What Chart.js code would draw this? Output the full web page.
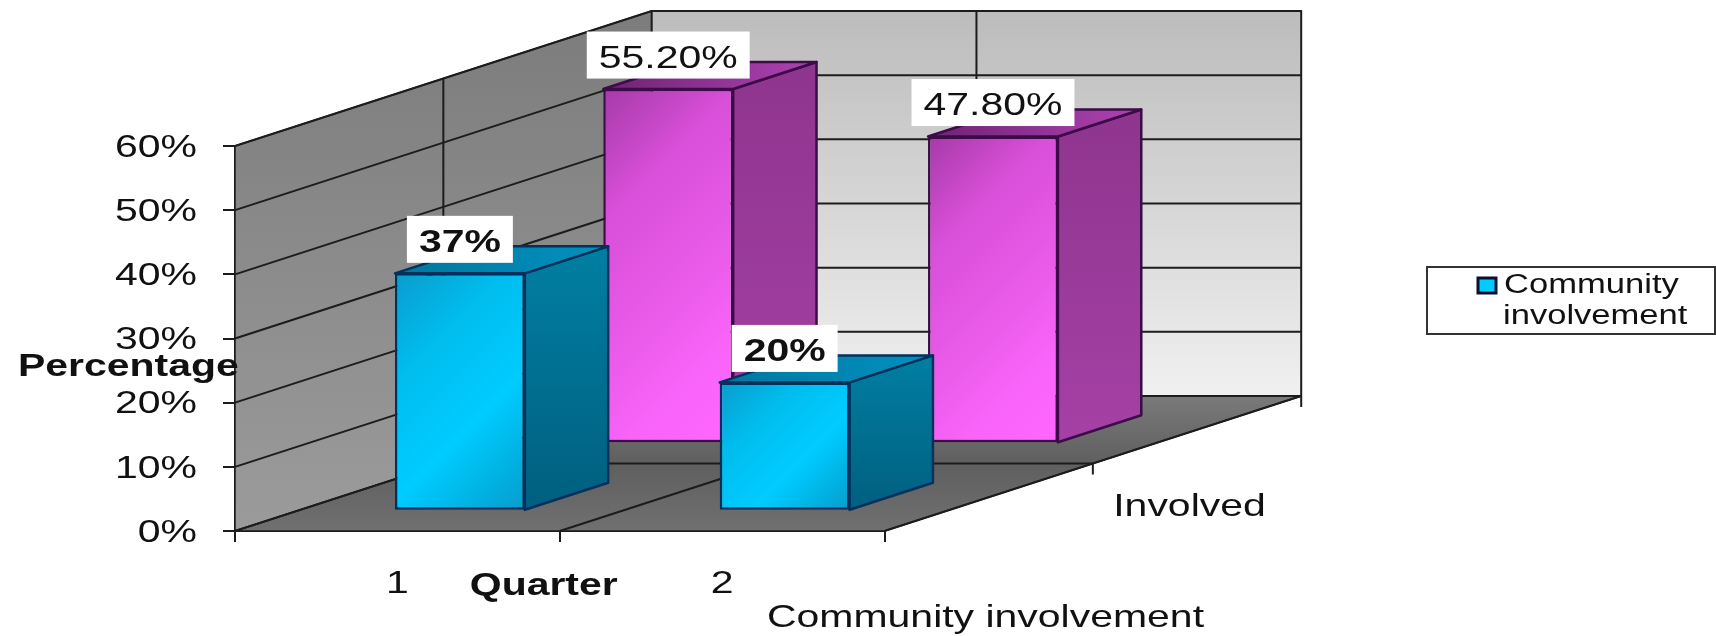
<!DOCTYPE html>
<html>
<head>
<meta charset="utf-8">
<style>
html,body{margin:0;padding:0;background:#fff;overflow:hidden}
canvas{display:block;filter:blur(.5px)}
</style>
<script src="https://cdn.jsdelivr.net/npm/chart.js@4"></script>
</head>
<body>
<canvas id="c" width="1716" height="636" style="width:1716px;height:636px"></canvas>
<script>
const quarters = ['1', '2'];
const seriesNames = ['Community involvement', 'Involved'];
const communityValues = [37, 20];
const involvedValues = [55.2, 47.8];
const communityLabels = ['37%', '20%'];
const involvedLabels = ['55.20%', '47.80%'];
const legendLines = ['Community', 'involvement'];
const yAxisTitle = 'Percentage';
const xAxisTitle = 'Quarter';
const depthTitle = 'Community involvement';
const depthLabel = 'Involved';

const STRETCH = 1.28, FONT = '"Liberation Sans", Arial, sans-serif', SIZE = 32;
const DX = 416.7, DY = 135;                 // projected depth of the 3D box
const ROW_DEPTH = [0.15, 0.65], BAR_DEPTH = 0.2;
const INK = '#1c1c1c';

const skins = [
  {stops: [[0,'#0a9ccd'],[0.3,'#00bdee'],[0.62,'#00ccff'],[0.85,'#00b0e0'],[1,'#0a9ccc']],
   side: ['#007fa2','#005f80'], top: ['#00779e','#0091c0'], line: '#04305c', flat: '#00ccff'},
  {stops: [[0,'#a53aa8'],[0.27,'#d84fd8'],[0.55,'#e85ae8'],[0.8,'#fa64fa'],[1,'#ff66ff']],
   side: ['#8e358e','#a640a6'], top: ['#6d2472','#b042b4'], line: '#3c0b48', flat: '#f25ff2'}
];

function frontFill(ctx){
  const skin = skins[ctx.datasetIndex];
  if (ctx.type !== 'data') return skin.flat;
  const {x, y} = ctx.chart.scales;
  if (!x || !y) return skin.flat;
  const w = x.width / quarters.length * 0.4;
  const cx = x.getPixelForValue(ctx.dataIndex);
  const v = ctx.dataset.data[ctx.dataIndex];
  const y0 = y.getPixelForValue(v), y1 = y.getPixelForValue(0);
  if (![w, cx, y0, y1].every(Number.isFinite)) return skin.flat;
  // 45 degree sweep from the top-left corner to the bottom-right corner
  const L = (w + (y1 - y0)) / 4, cy = (y0 + y1) / 2;
  const g = ctx.chart.ctx.createLinearGradient(cx - L, cy - L, cx + L, cy + L);
  skin.stops.forEach(s => g.addColorStop(s[0], s[1]));
  return g;
}
function poly(ctx, pts, fill, stroke, lw){
  ctx.beginPath();
  pts.forEach((p,i)=> i ? ctx.lineTo(p[0],p[1]) : ctx.moveTo(p[0],p[1]));
  ctx.closePath();
  if (fill){ ctx.fillStyle = fill; ctx.fill(); }
  if (stroke){ ctx.strokeStyle = stroke; ctx.lineWidth = lw || 2; ctx.lineJoin='round'; ctx.stroke(); }
}
function seg(ctx, x1, y1, x2, y2, c, lw){
  ctx.beginPath(); ctx.moveTo(x1,y1); ctx.lineTo(x2,y2);
  ctx.strokeStyle = c || INK; ctx.lineWidth = lw || 2; ctx.stroke();
}
function label(ctx, text, x, y, font, align){
  ctx.font = font; ctx.fillStyle = '#111';
  ctx.textAlign = align || 'center'; ctx.textBaseline = 'middle';
  ctx.fillText(text, x, y + 2);
}
function vGrad(ctx, y0, y1, stops){
  const g = ctx.createLinearGradient(0,y0,0,y1);
  stops.forEach((c,i)=> g.addColorStop(i/(stops.length-1), c));
  return g;
}

const box3d = {
  id: 'box3d',
  beforeInit(chart){
    // the reference's text is horizontally stretched
    const c = chart.ctx, fill = c.fillText.bind(c), measure = c.measureText.bind(c);
    c.fillText = (t,x,y) => { c.save(); c.translate(x,y); c.scale(STRETCH,1); fill(t,0,0); c.restore(); };
    c.measureText = t => ({width: measure(t).width * STRETCH});
  },
  beforeDatasetsDraw(chart){
    const ctx = chart.ctx, {left, right, top, bottom} = chart.chartArea, {y} = chart.scales;
    ctx.save();
    // walls and floor
    poly(ctx, [[left,top],[left+DX,top-DY],[left+DX,bottom-DY],[left,bottom]],
         vGrad(ctx, top-DY, bottom, ['#7c7c7c','#9b9b9b']), INK, 1.5);
    poly(ctx, [[left+DX,top-DY],[right+DX,top-DY],[right+DX,bottom-DY],[left+DX,bottom-DY]],
         vGrad(ctx, top-DY, bottom-DY, ['#bcbcbc','#f0f0f0']), INK, 2);
    poly(ctx, [[left,bottom],[right,bottom],[right+DX,bottom-DY],[left+DX,bottom-DY]],
         vGrad(ctx, bottom-DY, bottom, ['#7a7a7a','#5f5f5f','#707070']), INK, 1.5);
    // value gridlines on both walls
    y.ticks.forEach(t => {
      const py = y.getPixelForValue(t.value);
      seg(ctx, left, py, left+DX, py-DY);
      seg(ctx, left+DX, py-DY, right+DX, py-DY);
    });
    // category divider on walls and floor
    const midX = (left+right)/2;
    seg(ctx, midX, bottom, midX+DX, bottom-DY);
    seg(ctx, midX+DX, bottom-DY, midX+DX, top-DY);
    // series divider on the floor and left wall
    const mx = left+DX/2, my = bottom-DY/2;
    seg(ctx, mx, my, mx+right-left, my);
    seg(ctx, mx, my, mx, top-DY/2);
    // depth axis
    seg(ctx, right, bottom, right+DX, bottom-DY);
    seg(ctx, mx+right-left, my, mx+right-left, my+11);
    seg(ctx, right+DX, bottom-DY, right+DX, bottom-DY+11);
    ctx.restore();
  },
  beforeDatasetDraw(chart, args){
    const ctx = chart.ctx, i = args.index, skin = skins[i];
    const ox = DX*ROW_DEPTH[i], oy = -DY*ROW_DEPTH[i], dx = DX*BAR_DEPTH, dy = -DY*BAR_DEPTH;
    ctx.save();
    ctx.translate(ox, oy);
    args.meta.data.forEach(el => {
      const p = el.getProps(['x','y','base','width'], true);
      const l = p.x-p.width/2, r = p.x+p.width/2;
      poly(ctx, [[r,p.y],[r+dx,p.y+dy],[r+dx,p.base+dy],[r,p.base]],
           vGrad(ctx, p.y+dy, p.base, skin.side), skin.line, 2.5);
      const g = ctx.createLinearGradient(l, 0, r+dx, 0);
      g.addColorStop(0, skin.top[0]); g.addColorStop(1, skin.top[1]);
      poly(ctx, [[l,p.y],[l+dx,p.y+dy],[r+dx,p.y+dy],[r,p.y]], g, skin.line, 2.5);
    });
  },
  afterDatasetDraw(chart){ chart.ctx.restore(); },
  afterDatasetsDraw(chart){
    const ctx = chart.ctx;
    ctx.save();
    [[1,involvedLabels,'normal'],[0,communityLabels,'bold']].forEach(([i,texts,weight]) => {
      const ox = DX*ROW_DEPTH[i], oy = -DY*ROW_DEPTH[i];
      chart.getDatasetMeta(i).data.forEach((el,k) => {
        const font = weight+' '+SIZE+'px '+FONT;
        ctx.font = font;
        const w = ctx.measureText(texts[k]).width + 24, h = 47;
        const cx = el.x+ox, cy = el.y+oy-34;
        ctx.fillStyle = '#fff';
        ctx.fillRect(cx-w/2, cy-h/2, w, h);
        label(ctx, texts[k], cx, cy+2, font);
      });
    });
    ctx.restore();
  },
  afterDraw(chart){
    const ctx = chart.ctx, {left, right} = chart.chartArea;
    ctx.save();
    const bold = 'bold '+SIZE+'px '+FONT, reg = SIZE+'px '+FONT;
    label(ctx, yAxisTitle, 18, 365, bold, 'left');
    label(ctx, xAxisTitle, (left+right)/2-16, 584, bold);
    label(ctx, depthLabel, right+305, 505, reg);
    label(ctx, depthTitle, right+101, 616, reg);
    // legend
    ctx.fillStyle = '#fff'; ctx.strokeStyle = '#333'; ctx.lineWidth = 2;
    ctx.fillRect(1427,267,288,67); ctx.strokeRect(1427,267,288,67);
    ctx.fillStyle = skins[0].flat; ctx.strokeStyle = '#0a1030'; ctx.lineWidth = 3;
    ctx.fillRect(1478,278,18,15); ctx.strokeRect(1478,278,18,15);
    const lf = '27px '+FONT;
    label(ctx, legendLines[0], 1504, 284, lf, 'left');
    label(ctx, legendLines[1], 1503, 315, lf, 'left');
    ctx.restore();
  }
};

new Chart(document.getElementById('c'), {
  type: 'bar',
  data: {
    labels: quarters,
    datasets: [
      {label: seriesNames[0], data: communityValues, backgroundColor: frontFill,
       borderColor: skins[0].line, borderWidth: 2.5, borderSkipped: false, clip: false},
      {label: seriesNames[1], data: involvedValues, backgroundColor: frontFill,
       borderColor: skins[1].line, borderWidth: 2.5, borderSkipped: false, clip: false}
    ]
  },
  options: {
    responsive: false, animation: false, devicePixelRatio: 1,
    layout: {padding: {left: 0, top: 146, right: 831.5, bottom: 0}},
    datasets: {bar: {grouped: false, categoryPercentage: 1, barPercentage: 0.4}},
    plugins: {legend: {display: false}, tooltip: {enabled: false}, title: {display: false}},
    scales: {
      x: {
        afterFit: s => { s.height = 105; },
        grid: {drawOnChartArea: false, tickLength: 11, color: INK, lineWidth: 2},
        border: {color: INK, width: 2},
        ticks: {color: '#111', padding: 23, maxRotation: 0, font: {family: FONT, size: SIZE}}
      },
      y: {
        min: 0, max: 60,
        afterFit: s => { s.width = 235; },
        grid: {drawOnChartArea: false, tickLength: 12, color: INK, lineWidth: 2},
        border: {color: INK, width: 2},
        ticks: {stepSize: 10, color: '#111', padding: 26, labelOffset: 2, font: {family: FONT, size: SIZE},
                callback: v => v + '%'}
      }
    }
  },
  plugins: [box3d]
});
</script>
</body>
</html>
